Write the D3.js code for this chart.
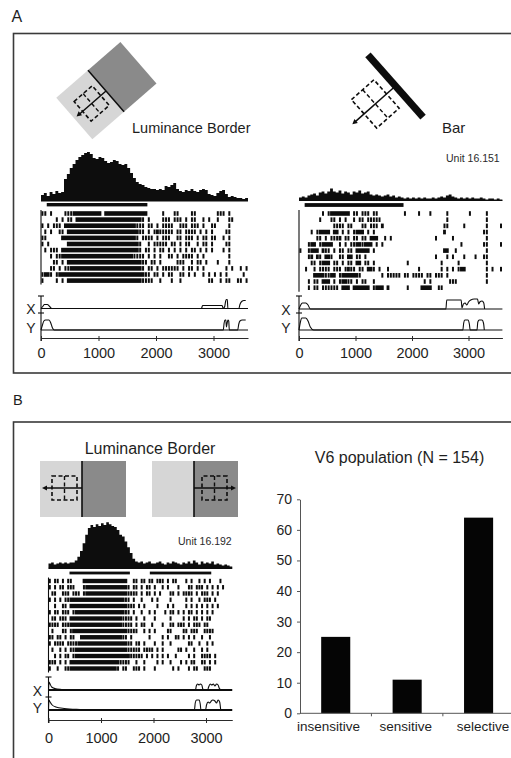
<!DOCTYPE html>
<html>
<head>
<meta charset="utf-8">
<script src="https://cdn.jsdelivr.net/npm/d3@7"></script>
<style>
  body { margin: 0; background: #fff; }
  svg { display: block; }
</style>
</head>
<body>
<svg id="fig" width="511" height="758"></svg>
<script>
// ---------------------------------------------------------------
// Data
// ---------------------------------------------------------------
const binMs = 50;                       // PSTH / raster bin width (ms)
const timeTicks = [0, 1000, 2000, 3000];

// PSTHs (spikes/s per 50 ms bin)
const psthBorderA = [6,8,5,9,7,10,8,9,22,27,
                     33,37,41,44,46,48,49,47,43,42,
                     44,43,40,38,39,41,40,37,36,37,
                     33,28,23,19,17,16,14,13,12,12,
                     11,12,11,15,14,16,18,12,10,9,
                     11,10,12,10,9,11,12,11,7,6,
                     5,8,10,11,7,4,5,4,3,3,2,3];
const psthBarA    = [3,4,3,5,6,7,5,8,9,7,
                     9,12,9,8,10,7,9,8,6,9,
                     8,10,7,8,9,6,5,6,5,4,
                     5,6,4,5,3,4,3,2,3,2,
                     3,2,3,2,3,2,2,3,2,3,
                     4,3,5,6,4,3,2,3,2,3,
                     2,3,2,2,3,2,1,2,2,1,2,1];
const psthBorderB = [5,6,4,5,6,5,6,5,6,6,
                     8,12,18,26,35,42,45,43,46,44,
                     47,45,48,46,44,43,40,35,33,28,
                     22,16,10,7,6,7,5,6,7,5,
                     5,6,7,5,4,6,5,7,6,5,
                     4,6,5,7,5,8,6,4,7,5,
                     6,5,7,4,5,4,3,4,3,2];

// stimulus-on periods (ms)
const stimA = [[100, 1850]];
const stimB = [[400, 1550], [1930, 3100]];

// spike rasters: one string per trial, one char per 50 ms bin
// '#' = burst, '|' = single spike, '.' = none (spaces group 10 bins)
const rasterBorderA = [
  "||.|....|| |######### #.######## #######... ..|...||.. ..||...... .|||.|.... ..",
  ".....|.|.| |.######## ########## #####|.|.. ..|||.|||. |.||..|.|. .|...||... ..",
  "|.|.|||.## ########## ########## ###|||.||. |.||||..|| |.|||.|..| |....|.... ..",
  ".|.|..||.# ########## ########## ####||.|.| #|||||.||. ||||.|.|.| ....||.... ..",
  "||.....### ########## ########## ###|.||||. |.|||..||. |||.|.||.| |..|.|.... ..",
  "|.|......# ########## ########## ####|..|.| ||||.||.|. ||..|.||.| ....||.... ..",
  ".|.|||.### ########## ########## ####|.||.| .||.|.|.|. |.||.|.|.| ...|.|.... ..",
  "...|.||### ########## ########## ##||||.|.| .|..||.|.| |||.|.|... .....|.... ..",
  "....||.|.# ########## ########## #####||.|| .|.....||| ..|.||.|.. .|...|.... ..",
  "...||.|.|| ########## ########## #####|.||. |.||||||.| .||.|.|... ....|.|..| .|",
  "|##|.|#### ########## ########## ######||.| |.|.||..|| .|.|..|.|. |.|.|..... |.",
  "|....|.|.# ########## ########## #####||||. .|...|..|. ........|| ..|.||..|| .|"
];
const rasterBarA = [
  "........|. |#######.| |.|||.||.. .......|.. ..|...|... ..|....... |.....|... ..",
  ".......|.. .||.|.|..| .||.|||||. .......... .......... ..|....... ......|... ..",
  ".......... ..||||.||. ..||.|||.# .......... .......... .||.....|. ......|... .|",
  "....|.|### #.##.|.|.| ###.|.|... .......... .......... .#........ .....||... ..",
  "......||.| .|||#.||.| |.||.###.. |.|....... ........|. ....|..... ......|... ..",
  "...|##.|## ##..|.|.|| ##|###.|.| .......... .......... .......|.. .....||... .|",
  "|..|###.#| |.|.||.||. #####.|... .......... .......... .##..|.... ......|... ..",
  "...|#.#|.# #|..||.##. ||.|...... .......... ........|. ..|.|...|. ..|..||... ..",
  "....||.|## #.||.|.||. ##.||.|... ........|. .......... |.....|... ......|... ..",
  "..|..|.||| |.|||.|#|| .||.##|.|. .|........ ..|....... |.|.|.|##. ......|.|. .|",
  ".....####| |##.|##### #|.......| .|||||.||. ||||.||.|| |.|....... ......|... ..",
  "...|.||.## #.|.|##||. |.||..|... .......... ....|.|... ...|||.... ......|... ..",
  "...|.||.|| ||||.###.# #####.|### .#......|. ...####..| |......... .......... .."
];
const rasterBorderB = [
  "|.||.|.||. ...####### ########## ..||.||.|| .|||.|.||. ..|.|..|.| .|...|....",
  "|.|.||.||| ...|###### ########## |.||.|.||. |..|.|...| ...||.|||. |.|.|.|...",
  ".||..|||.| ||.|###### ########## ||||.|.||. |.|...||.| .||||.|.|| |.|.|.....",
  "|.|.|.||## ########## #########| |.|..|...| .|....|... ..|.|..|.| ||.|......",
  "..|..||.## ########## ########## |||.|.|... .|...|.|.. ..|.|.|.|. |.|.|.....",
  "|.||.|||.| ########## #########| |.|..|..|. |...|.||.| .|.||.|.|. |.|.......",
  ".||.|||.## ########## ########|| ||.|..|... |.....|... .|.|.||.|. ||........",
  "||||.|||## ########## ########|| ||.|.||..| ...|..||.| ||.|.|||.| |.........",
  ".|...||.|# ########## ########## ||||..|.|. |....||... .||.|||..| |||.......",
  "||.||.|.|| ..######## ########|| .|......|. ...|.|..|| .|.|.|..|. .|........",
  "|.||||.||| |######### ########## ||.||.|... |..|..|... ...||..|.. |.|.......",
  ".|..|.|.|| ########## ########## |||||.|||| .|.|.....| |.|..|..|. |.........",
  "..|.|.||.| ########## ########## #|||||.|.| .|.|.|..|. ...|.|..|| ||.|......",
  "|||.|.|.## ########## #######||| |..|..|... .|.|..|... |.|.||..|| .|.|......",
  "|..|..||## ########## ######|.|| ..|||.|... |......|.| ...|.||..| ||........"
];

// eye position traces: [time (ms), deflection (deg)]
const eyeXBorderA = [[0,0],[30,2],[60,4],[110,4],[150,2],[190,0],[2790,0],[2810,3],[3150,3],[3170,0],
                     [3195,2],[3210,7],[3225,9],[3240,9],[3250,0],[3440,0],[3460,4],[3490,7],[3530,8],[3560,8]];
const eyeYBorderA = [[0,0],[25,5],[50,9],[80,10],[140,10],[170,7],[200,2],[230,0],[3170,0],[3185,7],
                     [3200,10],[3215,10],[3225,3],[3235,6],[3250,10],[3265,9],[3275,0],[3420,0],[3440,6],
                     [3460,9],[3500,10],[3560,10]];
const eyeXBarA    = [[0,0],[30,4],[60,6],[120,6],[160,4],[200,0],[2600,0],[2615,9],[2870,9],[2885,1],
                     [2910,5],[2940,6],[2970,4],[3000,7],[3040,9],[3100,10],[3160,10],[3180,5],[3200,7],
                     [3240,8],[3270,6],[3285,0]];
const eyeYBarA    = [[0,0],[25,8],[50,12],[120,12],[160,9],[200,3],[260,0],[2900,0],[2915,7],[2935,10],
                     [2990,10],[3015,6],[3030,0],[3150,0],[3165,8],[3190,10],[3240,10],[3265,7],[3280,0]];
const eyeXBorderB = [[0,0],[10,8],[30,6],[60,3],[120,1.5],[250,0.5],[400,0],[2800,0],[2815,4],[2840,6],
                     [2870,5],[2890,6],[2920,5],[2940,1],[2960,0],[3030,0],[3050,3],[3080,6],[3110,5],
                     [3140,6],[3170,4],[3200,6],[3230,5],[3260,1],[3300,0]];
const eyeYBorderB = [[0,0],[8,10],[30,8],[70,5],[140,3],[300,1.5],[600,0.5],[900,0],[2780,0],[2795,7],
                     [2820,10],[2870,10],[2890,6],[2905,0],[2990,0],[3010,5],[3040,8],[3070,7],[3100,9],
                     [3130,10],[3170,9],[3200,7],[3230,10],[3260,8],[3280,0]];

// population summary (% of cells)
const categories   = ["insensitive", "sensitive", "selective"];
const percentCells = [25, 11, 64];
const yTicks       = [0, 10, 20, 30, 40, 50, 60, 70];

// ---------------------------------------------------------------
// Drawing
// ---------------------------------------------------------------
const FONT = '"Liberation Sans", Arial, Helvetica, sans-serif';
const ink = "#0d0d0d";
const svg = d3.select("#fig");

function txt(x, y, s, size, anchor, fill) {
  return svg.append("text").attr("x", x).attr("y", y).text(s)
    .attr("font-family", FONT).attr("font-size", size)
    .attr("text-anchor", anchor || "start").attr("fill", fill || "#1e1e1e");
}

// panel frames
svg.append("rect").attr("x", 13.5).attr("y", 33.5).attr("width", 520).attr("height", 339.5)
  .attr("fill", "none").attr("stroke", "#3a3a3a").attr("stroke-width", 1.6);
svg.append("rect").attr("x", 13.5).attr("y", 422).attr("width", 520).attr("height", 360)
  .attr("fill", "none").attr("stroke", "#3a3a3a").attr("stroke-width", 1.6);

txt(11.5, 21.5, "A", 16);
txt(13, 405, "B", 14.5);

function parseTrial(row, nBins) {
  const s = row.replace(/ /g, "").padEnd(nBins, ".").slice(0, nBins);
  const spikes = [], bursts = [];
  let i = 0;
  while (i < s.length) {
    if (s[i] === "#") {
      let j = i;
      while (j < s.length && s[j] === "#") j++;
      bursts.push([i * binMs, j * binMs]);
      i = j;
    } else {
      if (s[i] === "|") spikes.push(i * binMs + binMs / 2);
      i++;
    }
  }
  return { spikes, bursts };
}

function unitPanel(o) {
  const g = svg.append("g");
  const x = d3.scaleLinear().domain([0, o.tMax]).range(o.xRange);
  const nBins = Math.round(o.tMax / binMs);

  // PSTH
  const ry = d3.scaleLinear().domain([0, 50]).range([o.psthBase, o.psthBase - o.psthPx]);
  const pts = o.psth.map((v, i) => [i * binMs, v]);
  pts.push([o.psth.length * binMs, o.psth[o.psth.length - 1]]);
  g.append("path").datum(pts)
    .attr("d", d3.area().curve(d3.curveStepAfter)
      .x(d => x(d[0])).y0(o.psthBase).y1(d => ry(d[1])))
    .attr("fill", ink);
  g.append("line").attr("x1", x(0)).attr("x2", x(o.psth.length * binMs))
    .attr("y1", o.psthBase).attr("y2", o.psthBase).attr("stroke", ink).attr("stroke-width", 1.2);

  // stimulus bars
  g.selectAll(null).data(o.stim).join("rect")
    .attr("x", d => x(d[0])).attr("width", d => x(d[1]) - x(d[0]))
    .attr("y", o.stimY - o.stimH / 2).attr("height", o.stimH).attr("fill", ink);

  // raster
  const rowY = d3.scalePoint().domain(d3.range(o.raster.length)).range(o.rowRange);
  const trials = o.raster.map(r => parseTrial(r, nBins));
  const rows = g.selectAll(null).data(trials).join("g")
    .attr("transform", (d, i) => `translate(0,${rowY(i)})`);
  rows.selectAll("rect").data(d => d.bursts).join("rect")
    .attr("x", d => x(d[0])).attr("width", d => x(d[1]) - x(d[0]))
    .attr("y", -o.tickH / 2).attr("height", o.tickH).attr("fill", ink);
  rows.selectAll("line").data(d => d.spikes).join("line")
    .attr("x1", d => x(d)).attr("x2", d => x(d))
    .attr("y1", -o.tickH / 2).attr("y2", o.tickH / 2)
    .attr("stroke", ink).attr("stroke-width", 2);
  g.append("line").attr("x1", x(0)).attr("x2", x(0))
    .attr("y1", o.rowRange[0] - 3.5).attr("y2", o.rowRange[1] + 4)
    .attr("stroke", ink).attr("stroke-width", 1.1);

  // eye traces
  [[o.eyeX, o.xBase], [o.eyeY, o.yBase]].forEach(([trace, base]) => {
    const ey = d3.scaleLinear().domain([0, 10]).range([base, base - 10]);
    g.append("line").attr("x1", x(0)).attr("x2", x(o.tMax))
      .attr("y1", base).attr("y2", base).attr("stroke", ink).attr("stroke-width", o.traceW);
    g.append("path").datum(trace)
      .attr("d", d3.line().curve(d3.curveMonotoneX).x(d => x(d[0])).y(d => ey(d[1])))
      .attr("fill", "none").attr("stroke", ink).attr("stroke-width", 1.1);
  });
  // calibration bar at t = 0
  g.append("line").attr("x1", x(0)).attr("x2", x(0))
    .attr("y1", o.calTop).attr("y2", o.axisY + 3).attr("stroke", ink).attr("stroke-width", 1.1);
  [o.calTop, o.calMid].forEach(yy => g.append("line")
    .attr("x1", x(0) - 3).attr("x2", x(0) + 3).attr("y1", yy).attr("y2", yy)
    .attr("stroke", ink).attr("stroke-width", 1.1));
  txt(o.labelX, o.xBase + 5.5, "X", 14, "middle");
  txt(o.labelX, o.yBase + 3, "Y", 14, "middle");

  // time axis
  const ax = g.append("g").attr("transform", `translate(0,${o.axisY})`)
    .call(d3.axisBottom(x).tickValues(timeTicks).tickFormat(d3.format("d"))
      .tickSize(3).tickSizeOuter(0).tickPadding(o.pad))
    .attr("font-family", FONT).attr("font-size", 14.5);
  ax.select(".domain").attr("stroke", "#2a2a2a").attr("stroke-width", 1.2);
  ax.selectAll(".tick line").attr("y1", -2).attr("stroke", "#2a2a2a");
  ax.selectAll(".tick text").attr("fill", "#1e1e1e");
  return x;
}

unitPanel({
  tMax: 3600, xRange: [41, 248], psth: psthBorderA, psthBase: 201, psthPx: 50,
  stim: stimA, stimY: 204.7, stimH: 3.4,
  raster: rasterBorderA, rowRange: [213.5, 280.6], tickH: 4.6,
  eyeX: eyeXBorderA, eyeY: eyeYBorderA, xBase: 308.5, yBase: 330, traceW: 1.1,
  calTop: 296, calMid: 313, labelX: 31, axisY: 338, pad: 7
});
unitPanel({
  tMax: 3600, xRange: [299, 502.4], psth: psthBarA, psthBase: 200.5, psthPx: 50,
  stim: stimA, stimY: 205, stimH: 3.8,
  raster: rasterBarA, rowRange: [213.5, 287.7], tickH: 4.6,
  eyeX: eyeXBarA, eyeY: eyeYBarA, xBase: 309, yBase: 330, traceW: 1.1,
  calTop: 296, calMid: 313, labelX: 286, axisY: 338, pad: 7
});
unitPanel({
  tMax: 3500, xRange: [48.5, 232.25], psth: psthBorderB, psthBase: 568.3, psthPx: 48,
  stim: stimB, stimY: 573, stimH: 2.8,
  raster: rasterBorderB, rowRange: [581, 668.5], tickH: 4.4,
  eyeX: eyeXBorderB, eyeY: eyeYBorderB, xBase: 690, yBase: 710, traceW: 1.8,
  calTop: 677, calMid: 697, labelX: 37.5, axisY: 720, pad: 9.5
});

// ---------------- stimulus icons ----------------
const light = "#d6d6d6", dark = "#8a8a8a";

// dashed receptive field with motion arrow (local frame: border at x = 0, arrow toward -x)
function rfGlyph(g, x0, x1, half, tip) {
  g.append("rect").attr("x", x0).attr("y", -half).attr("width", x1 - x0).attr("height", 2 * half)
    .attr("fill", "none").attr("stroke", ink).attr("stroke-width", 1.6).attr("stroke-dasharray", "4,2.5");
  const mid = (x0 + x1) / 2;
  g.append("line").attr("x1", mid).attr("x2", mid).attr("y1", -half).attr("y2", half)
    .attr("stroke", ink).attr("stroke-width", 1.4).attr("stroke-dasharray", "4,2.5");
  g.append("line").attr("x1", 0).attr("x2", tip + 4).attr("y1", 0).attr("y2", 0)
    .attr("stroke", ink).attr("stroke-width", 1.5);
  g.append("path").attr("d", `M${tip},0 L${tip + 5},-2.6 L${tip + 5},2.6 Z`).attr("fill", ink);
}

// A: oblique luminance border
const iA1 = svg.append("g").attr("transform", "translate(106,91) rotate(-41)");
iA1.append("rect").attr("x", -42).attr("y", -27.5).attr("width", 42).attr("height", 55).attr("fill", light);
iA1.append("rect").attr("x", 0).attr("y", -27.5).attr("width", 43).attr("height", 55).attr("fill", dark);
iA1.append("line").attr("x1", 0).attr("x2", 0).attr("y1", -27.5).attr("y2", 27.5)
  .attr("stroke", ink).attr("stroke-width", 1.5);
rfGlyph(iA1, -31, -7, 13, -39);
txt(132, 133, "Luminance Border", 14.5);

// A: oblique bar
const iA2 = svg.append("g").attr("transform", "translate(395.5,86) rotate(-41.6)");
iA2.append("rect").attr("x", -3.6).attr("y", -41.5).attr("width", 7.2).attr("height", 83).attr("fill", ink);
rfGlyph(iA2, -42, -12, 19, -57.7);
txt(442, 133, "Bar", 15);
txt(446, 162, "Unit 16.151", 10.5, "start", "#2a2a2a");

// B: vertical luminance border, two contrast polarities
txt(150, 454, "Luminance Border", 16, "middle");
[[40, 82, 126, false], [152, 194, 238, true]].forEach(([l, b, r, flip]) => {
  svg.append("rect").attr("x", l).attr("y", 461).attr("width", b - l).attr("height", 56).attr("fill", light);
  svg.append("rect").attr("x", b).attr("y", 461).attr("width", r - b).attr("height", 56).attr("fill", dark);
  svg.append("line").attr("x1", b).attr("x2", b).attr("y1", 461).attr("y2", 517)
    .attr("stroke", ink).attr("stroke-width", 1.6);
  const gg = svg.append("g").attr("transform", `translate(${b},488)` + (flip ? " scale(-1,1)" : ""));
  rfGlyph(gg, flip ? -33 : -30, flip ? -8 : -5, 12, flip ? -42 : -40);
});
txt(178, 545, "Unit 16.192", 10.5, "start", "#2a2a2a");

// ---------------- population bar chart ----------------
const bx = d3.scaleBand().domain(categories).range([300, 514.3])
  .paddingInner(0.593).paddingOuter(0.2965);
const by = d3.scaleLinear().domain([0, 70]).range([713.3, 499.3]);
const labelX = d3.scalePoint().domain(categories).range([328.5, 483]);
const bars = categories.map((c, i) => ({ c, v: percentCells[i] }));

const chart = svg.append("g");
chart.selectAll("rect").data(bars).join("rect")
  .attr("x", d => bx(d.c)).attr("width", bx.bandwidth())
  .attr("y", d => by(d.v)).attr("height", d => by(0) - by(d.v))
  .attr("fill", "#050505");

const yAx = chart.append("g").attr("transform", "translate(300,0)")
  .call(d3.axisLeft(by).tickValues(yTicks).tickSize(3).tickSizeOuter(0).tickPadding(5))
  .attr("font-family", FONT).attr("font-size", 14);
yAx.select(".domain").attr("stroke", "#555");
yAx.selectAll(".tick line").attr("stroke", "#555");
yAx.selectAll(".tick text").attr("fill", "#1e1e1e");

chart.append("line").attr("x1", 300).attr("x2", 511).attr("y1", by(0)).attr("y2", by(0))
  .attr("stroke", "#555").attr("stroke-width", 1);
chart.selectAll(null).data(categories.slice(1)).join("line")
  .attr("x1", d => bx(d) - bx.step() * bx.paddingInner() / 2)
  .attr("x2", d => bx(d) - bx.step() * bx.paddingInner() / 2)
  .attr("y1", by(0)).attr("y2", by(0) + 3).attr("stroke", "#555");

chart.selectAll(null).data(categories).join("text")
  .attr("x", d => labelX(d)).attr("y", 730.7).text(d => d)
  .attr("text-anchor", "middle").attr("font-family", FONT).attr("font-size", 13.5).attr("fill", "#1e1e1e");

txt(399.5, 463, "V6 population (N = 154)", 16, "middle");
</script>
</body>
</html>
